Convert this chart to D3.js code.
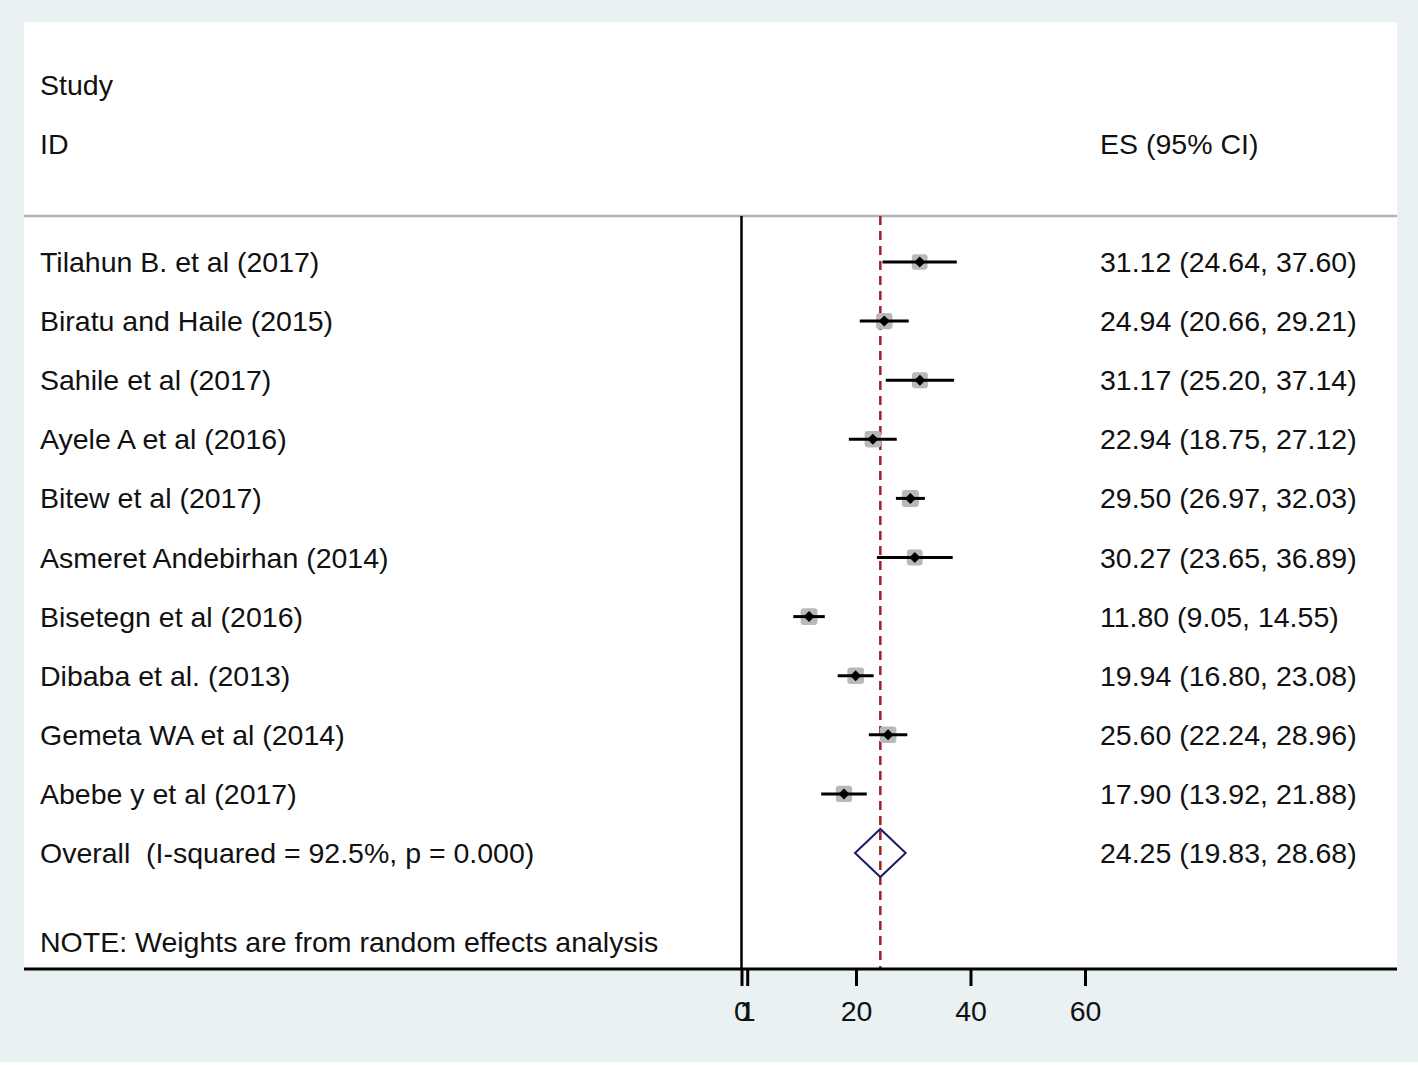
<!DOCTYPE html>
<html>
  <head>
    <script src="https://d3js.org/d3.v7.min.js"></script>
    <style>
      body { margin: 0; background: #ffffff; }
      text { font-family: "Liberation Sans", Arial, sans-serif; font-size: 28.5px; fill: #111; white-space: pre; }
      .axis .domain { stroke: #000; stroke-width: 3px; }
      .axis .tick line { stroke: #000; stroke-width: 3px; }
      .axis .tick text { font-size: 28.5px; fill: #111; }
    </style>
  </head>
  <body>
    <svg width="1418" height="1065"></svg>
    <script>
      const studies = [
        "Tilahun B. et al (2017)", "Biratu and Haile (2015)", "Sahile et al (2017)",
        "Ayele A et al (2016)", "Bitew et al (2017)", "Asmeret Andebirhan (2014)",
        "Bisetegn et al (2016)", "Dibaba et al. (2013)", "Gemeta WA et al (2014)",
        "Abebe y et al (2017)"
      ];
      const es    = [31.12, 24.94, 31.17, 22.94, 29.50, 30.27, 11.80, 19.94, 25.60, 17.90];
      const lower = [24.64, 20.66, 25.20, 18.75, 26.97, 23.65,  9.05, 16.80, 22.24, 13.92];
      const upper = [37.60, 29.21, 37.14, 27.12, 32.03, 36.89, 14.55, 23.08, 28.96, 21.88];
      const weights = [9.4, 10.2, 9.6, 10.3, 11.0, 9.5, 10.8, 10.5, 10.4, 10.1];
      const overall = {label: "Overall  (I-squared = 92.5%, p = 0.000)", es: 24.25, lower: 19.83, upper: 28.68};
      const xTicks = [0, 1, 20, 40, 60];
      const note = "NOTE: Weights are from random effects analysis";

      const svg = d3.select("svg");
      const W = 1418, H = 1065;
      const panel = {left: 24, right: 1397, top: 22, bottom: 969};

      svg.append("rect").attr("width", W).attr("height", 1062).attr("fill", "#eaf1f2");
      svg.append("rect")
        .attr("x", panel.left).attr("y", panel.top)
        .attr("width", panel.right - panel.left).attr("height", panel.bottom - panel.top)
        .attr("fill", "#ffffff");

      const x = d3.scaleLinear().domain([0, 60]).range([741.5, 1085]);
      const y = d3.scalePoint().domain(d3.range(11)).range([262, 853]);
      const fmt = d3.format(".2f");

      // header
      svg.append("text").attr("x", 40).attr("y", 95).text("Study");
      svg.append("text").attr("x", 40).attr("y", 154).text("ID");
      svg.append("text").attr("x", 1100).attr("y", 154).text("ES (95% CI)");

      svg.append("line")
        .attr("x1", panel.left).attr("x2", panel.right)
        .attr("y1", 216).attr("y2", 216)
        .attr("stroke", "#b4b4b4").attr("stroke-width", 2.5);

      // zero line
      svg.append("line")
        .attr("x1", x(0)).attr("x2", x(0))
        .attr("y1", 216).attr("y2", panel.bottom)
        .attr("stroke", "#000").attr("stroke-width", 2.5);

      // overall effect line
      svg.append("line")
        .attr("x1", x(overall.es)).attr("x2", x(overall.es))
        .attr("y1", 216).attr("y2", panel.bottom)
        .attr("stroke", "#a0202a").attr("stroke-width", 2.5)
        .attr("stroke-dasharray", "9,6");

      const rows = studies.map((s, i) => ({study: s, es: es[i], lower: lower[i], upper: upper[i], w: weights[i], i}));
      const side = d3.scaleSqrt().domain([0, d3.max(weights)]).range([0, 17]);

      const g = svg.selectAll(".row").data(rows).enter().append("g").attr("class", "row");
      g.append("rect")
        .attr("x", d => x(d.es) - side(d.w) / 2)
        .attr("y", d => y(d.i) - side(d.w) / 2)
        .attr("width", d => side(d.w)).attr("height", d => side(d.w))
        .attr("rx", 3)
        .attr("fill", "#b9b9b9");
      g.append("line")
        .attr("x1", d => x(d.lower)).attr("x2", d => x(d.upper))
        .attr("y1", d => y(d.i)).attr("y2", d => y(d.i))
        .attr("stroke", "#000").attr("stroke-width", 3);
      g.append("path")
        .attr("d", d => {
          const cx = x(d.es), cy = y(d.i), r = 5.5;
          return `M${cx - r},${cy}L${cx},${cy - r}L${cx + r},${cy}L${cx},${cy + r}Z`;
        })
        .attr("fill", "#000");
      g.append("text").attr("x", 40).attr("y", d => y(d.i) + 10).text(d => d.study);
      g.append("text").attr("x", 1100).attr("y", d => y(d.i) + 10)
        .text(d => `${fmt(d.es)} (${fmt(d.lower)}, ${fmt(d.upper)})`);

      // overall diamond
      const oy = y(10);
      svg.append("path")
        .attr("d", `M${x(overall.lower)},${oy}L${x(overall.es)},${oy - 24}L${x(overall.upper)},${oy}L${x(overall.es)},${oy + 24}Z`)
        .attr("fill", "none").attr("stroke", "#1c1c6a").attr("stroke-width", 2);
      svg.append("text").attr("x", 40).attr("y", oy + 10).text(overall.label);
      svg.append("text").attr("x", 1100).attr("y", oy + 10)
        .text(`${fmt(overall.es)} (${fmt(overall.lower)}, ${fmt(overall.upper)})`);

      svg.append("text").attr("x", 40).attr("y", 952).text(note);

      // x axis
      const axis = d3.axisBottom(x).tickValues(xTicks).tickSizeInner(17).tickSizeOuter(0).tickPadding(15).tickFormat(d3.format("d"));
      const ax = svg.append("g").attr("class", "axis").attr("transform", `translate(0,${panel.bottom})`).call(axis);
      ax.select(".domain").attr("d", `M${panel.left},0H${panel.right}`);
    </script>
  </body>
</html>
